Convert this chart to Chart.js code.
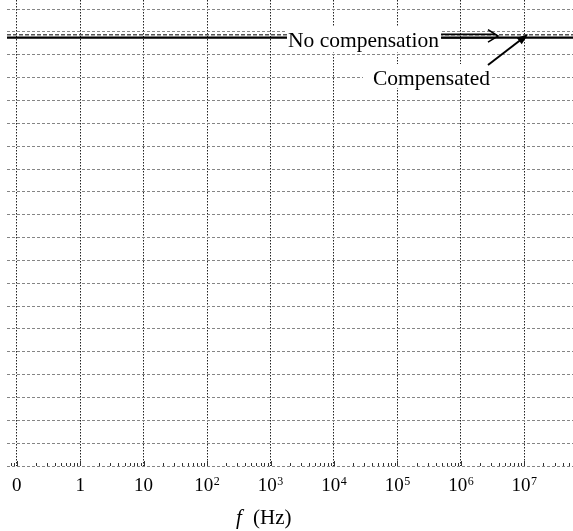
<!DOCTYPE html>
<html>
<head>
<meta charset="utf-8">
<script src="https://cdn.jsdelivr.net/npm/chart.js@4/dist/chart.umd.min.js"></script>
<style>
  html, body { margin: 0; padding: 0; background: #fff; }
  #wrap { width: 573px; height: 531px; position: relative; }
</style>
</head>
<body>
<div id="wrap"><canvas id="c" width="573" height="531"></canvas></div>
<script>
// ---- data ----
const tickPositions = [0, 1, 2, 3, 4, 5, 6, 7, 8];
const tickBase = ['0', '1', '10', '10', '10', '10', '10', '10', '10'];
const tickExp = ['', '', '', '2', '3', '4', '5', '6', '7'];
const xPoints = [-0.153, 0, 1, 2, 3, 4, 5, 6, 7, 8, 8.767];
const noCompensation = [18.88, 18.88, 18.88, 18.88, 18.88, 18.88, 18.88, 18.88, 18.88, 18.88, 18.88];
const compensated = [18.75, 18.75, 18.75, 18.75, 18.75, 18.75, 18.75, 18.75, 18.75, 18.75, 18.75];
const yGridValues = [0,1,2,3,4,5,6,7,8,9,10,11,12,13,14,15,16,17,18,19,20];
const minorFractions = [0.301, 0.477, 0.602, 0.699, 0.778, 0.845, 0.903, 0.954];
const annotationTexts = { upper: 'No compensation', lower: 'Compensated' };
const axisTitle = { symbol: 'f', unit: '(Hz)' };

const X_MIN = -0.153, X_MAX = 8.767, Y_MIN = 0, Y_MAX = 20.4;
const SERIF = "'Liberation Serif', 'Times New Roman', serif";

const extras = {
  id: 'extras',
  afterDatasetsDraw(chart) {
    const ctx = chart.ctx;
    const xs = chart.scales.x, ys = chart.scales.y;
    const area = chart.chartArea;
    ctx.save();
    // minor log ticks on the bottom axis
    ctx.strokeStyle = '#333';
    ctx.lineWidth = 1;
    ctx.beginPath();
    for (let d = -1; d <= 8; d++) {
      for (const f of minorFractions) {
        const v = d + f;
        if (v < X_MIN || v > X_MAX) continue;
        const px = Math.round(xs.getPixelForValue(v)) + 0.5;
        ctx.moveTo(px, area.bottom);
        ctx.lineTo(px, area.bottom - 3);
      }
    }
    for (const v of tickPositions) {
      const px = Math.round(xs.getPixelForValue(v)) + 0.5;
      ctx.moveTo(px, area.bottom);
      ctx.lineTo(px, area.bottom - 5);
    }
    ctx.stroke();

    // tick labels with superscript exponents
    ctx.fillStyle = '#000';
    ctx.textBaseline = 'alphabetic';
    ctx.textAlign = 'left';
    tickPositions.forEach((v, i) => {
      const px = xs.getPixelForValue(v);
      ctx.font = '19px ' + SERIF;
      const bw = ctx.measureText(tickBase[i]).width;
      ctx.font = '12px ' + SERIF;
      const ew = tickExp[i] ? ctx.measureText(tickExp[i]).width + 0.5 : 0;
      const x0 = px - (bw + ew) / 2;
      ctx.font = '19px ' + SERIF;
      ctx.fillText(tickBase[i], x0, 491);
      if (tickExp[i]) {
        ctx.font = '12px ' + SERIF;
        ctx.fillText(tickExp[i], x0 + bw + 0.5, 485);
      }
    });

    // "No compensation" label with white background
    ctx.font = '21.5px ' + SERIF;
    const yLine = ys.getPixelForValue(compensated[0]);
    const w1 = ctx.measureText(annotationTexts.upper).width;
    const tx1 = 288;
    ctx.fillStyle = '#fff';
    ctx.fillRect(tx1 - 1, 27, w1 + 3, 25);
    ctx.fillStyle = '#000';
    ctx.fillText(annotationTexts.upper, tx1, 46.5);

    // double arrow
    const ax0 = tx1 + w1 + 2, ax1 = 498;
    ctx.strokeStyle = '#000';
    ctx.lineWidth = 1.6;
    ctx.beginPath();
    ctx.moveTo(ax0, yLine - 3.3); ctx.lineTo(ax1 - 3, yLine - 3.3);
    ctx.moveTo(ax0, yLine);       ctx.lineTo(ax1 - 3, yLine);
    ctx.stroke();
    ctx.beginPath();
    ctx.moveTo(ax1 - 10, yLine - 8); ctx.lineTo(ax1, yLine - 1.6); ctx.lineTo(ax1 - 10, yLine + 4.5);
    ctx.stroke();

    // "Compensated" label
    const w2 = ctx.measureText(annotationTexts.lower).width;
    ctx.fillStyle = '#fff';
    ctx.fillRect(363, 64, w2 + 12, 24);
    ctx.fillStyle = '#000';
    ctx.fillText(annotationTexts.lower, 373, 85);

    // arrow to line
    const tipX = xs.getPixelForValue(8.06), tipY = yLine - 3.5;
    const tailX = 488, tailY = 65;
    const ang = Math.atan2(tipY - tailY, tipX - tailX);
    ctx.lineWidth = 2;
    ctx.beginPath();
    ctx.moveTo(tailX, tailY);
    ctx.lineTo(tipX - 8 * Math.cos(ang), tipY - 8 * Math.sin(ang));
    ctx.stroke();
    ctx.beginPath();
    ctx.moveTo(tipX, tipY);
    ctx.lineTo(tipX - 12 * Math.cos(ang - 0.35), tipY - 12 * Math.sin(ang - 0.35));
    ctx.lineTo(tipX - 12 * Math.cos(ang + 0.35), tipY - 12 * Math.sin(ang + 0.35));
    ctx.closePath();
    ctx.fill();

    // axis title
    ctx.font = 'italic 21px ' + SERIF;
    ctx.fillText(axisTitle.symbol, 236, 524);
    ctx.font = '21px ' + SERIF;
    ctx.fillText(axisTitle.unit, 253, 524);
    ctx.restore();
  }
};

new Chart(document.getElementById('c'), {
  type: 'line',
  data: {
    datasets: [
      {
        label: 'No compensation',
        data: xPoints.map((x, i) => ({ x, y: noCompensation[i] })),
        borderColor: '#555',
        borderWidth: 1.5,
        borderDash: [4, 2],
        pointRadius: 0,
        tension: 0
      },
      {
        label: 'Compensated',
        data: xPoints.map((x, i) => ({ x, y: compensated[i] })),
        borderColor: '#000',
        borderWidth: 2.2,
        pointRadius: 0,
        tension: 0
      }
    ]
  },
  options: {
    responsive: false,
    animation: false,
    layout: { padding: { left: 7, right: 0, top: 0, bottom: 0 } },
    plugins: { legend: { display: false }, tooltip: { enabled: false } },
    scales: {
      x: {
        type: 'linear',
        min: X_MIN,
        max: X_MAX,
        afterBuildTicks: s => { s.ticks = tickPositions.map(v => ({ value: v })); },
        afterFit: s => { s.height = 65; },
        border: { display: false, dash: [1.5, 1.5] },
        grid: { color: '#222', lineWidth: 1, drawTicks: false },
        ticks: { display: false }
      },
      y: {
        type: 'linear',
        min: Y_MIN,
        max: Y_MAX,
        afterBuildTicks: s => { s.ticks = yGridValues.map(v => ({ value: v })); },
        afterFit: s => { s.width = 0; },
        border: { display: false, dash: [3, 2] },
        grid: { color: '#858585', lineWidth: 1, drawTicks: false },
        ticks: { display: false }
      }
    }
  },
  plugins: [extras]
});
</script>
</body>
</html>
